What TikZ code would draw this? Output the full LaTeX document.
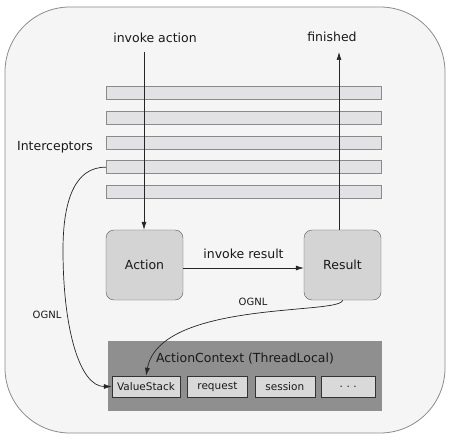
\documentclass[tikz,border=0pt]{standalone}
\usepackage{fontspec}
\setmainfont{DejaVu Sans}
\usetikzlibrary{positioning,arrows.meta}
\definecolor{pagegray}{HTML}{F5F5F5}
\definecolor{framegray}{HTML}{8A8A8A}
\definecolor{bargray}{HTML}{E2E2E4}
\definecolor{boxgray}{HTML}{D4D4D4}
\definecolor{ctxgray}{HTML}{8F8F8F}
\definecolor{slotgray}{HTML}{D9D9D9}
\tikzset{node distance=7pt, auto,
  x=1pt, y=-1pt,
  every node/.style={font=\fontsize{12.5}{15}\selectfont, text=black!90},
  bar/.style={draw=framegray, fill=bargray, minimum width=275pt, minimum height=13pt, inner sep=0pt},
  stage/.style={draw=black!65, fill=boxgray, rounded corners=8pt, minimum width=77pt, minimum height=70pt},
  slot/.style={draw=black!80, fill=slotgray, minimum height=21pt, inner sep=0pt, font=\fontsize{10.5}{12}\selectfont},
  small/.style={font=\fontsize{10}{12}\selectfont},
  flow/.style={-{Latex[length=8pt,width=5pt]}, line width=0.7pt, black!85}}

\begin{document}
\begin{tikzpicture}
                \useasboundingbox (0,0) rectangle (452,446);
                \draw[draw=framegray, fill=pagegray, line width=0.8pt, rounded corners=65pt] (5,7) rectangle (445,433);
                % interceptor stack
                \foreach \i in {1,...,5}
                  \node (bar\i) [bar] at (243.5,67.6+24.9*\i) {};
                \node (icp) at (55,147) {Interceptors};
                \node (ia) at (155,38) {invoke action};
                \node (fin) at (332,37) {finished};
                \coordinate (iatop) at (144,52);
                \coordinate (fintop) at (339,52);
                \node (Action) [stage] at (144.5,265) {Action};
                \node (Result) [stage] at (342.5,265) {Result};
                % action context
                \node (ctx) [fill=ctxgray, minimum width=274pt, minimum height=70pt, inner sep=0pt] at (245,376) {};
                \node (ctxl) at (245,359) {ActionContext (ThreadLocal)};
                \node (vs) [slot, minimum width=68pt] at (146,386.5) {ValueStack};
                \node (req) [slot, minimum width=60pt, right=of vs] {request};
                \node (ses) [slot, minimum width=60pt, right=of req] {session};
                \node (dots) [slot, minimum width=54pt, right=6pt of ses] {.\,\,.\,\,.};
                % connectors
                \draw[flow] (iatop) to (iatop |- Action.north);
                \draw[flow] (fintop |- Result.north) to (fintop);
                \draw[flow] ([yshift=-3pt]Action.east) to node[above=6pt] {invoke result} ([yshift=-3pt]Result.west);
                \draw[flow] (bar4.west) .. controls (75,167) and (63,200) .. (63,250)
                  .. controls (63,330) and (80,386.5) .. (vs.west);
                \draw[flow] (Result.south) .. controls (342,315) and (160,300) .. (vs.north);
                \node (og1) [small] at (47,315) {OGNL};
                \node (og2) [small] at (253,302) {OGNL};
              \end{tikzpicture}
\end{document}
